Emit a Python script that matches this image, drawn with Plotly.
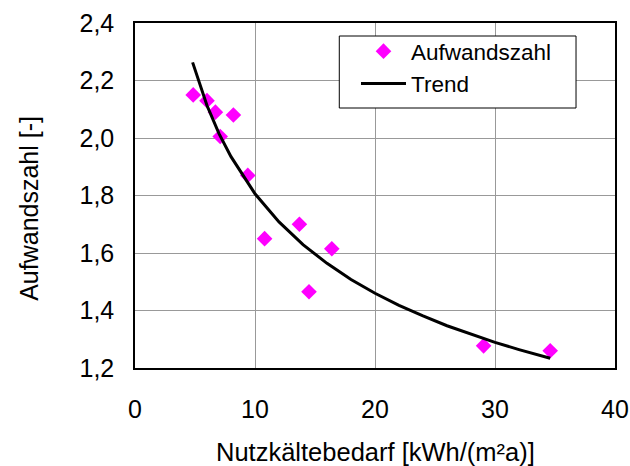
import plotly.graph_objects as go

# measured points (Nutzkältebedarf vs Aufwandszahl)
bedarf = [4.85, 6.0, 6.7, 8.2, 7.1, 9.4, 10.8, 13.7, 14.5, 16.4, 29.05, 34.6]
aufwand = [2.15, 2.13, 2.09, 2.08, 2.005, 1.87, 1.65, 1.70, 1.465, 1.615, 1.277, 1.26]

# trend curve
trend_x = [4.8, 6, 7, 8, 10, 12, 14, 16, 18, 20, 22, 24, 26, 28, 30, 32, 34.6]
trend_y = [2.263, 2.113, 2.015, 1.935, 1.806, 1.708, 1.629, 1.564, 1.508, 1.460,
           1.418, 1.381, 1.347, 1.317, 1.289, 1.264, 1.234]

FONT = "Liberation Sans, Arial, sans-serif"

fig = go.Figure()
fig.add_trace(go.Scatter(
    x=bedarf, y=aufwand, mode="markers", name="Aufwandszahl",
    marker=dict(symbol="diamond", size=12, color="#FF00FF", line=dict(width=0)),
))
fig.add_trace(go.Scatter(
    x=trend_x, y=trend_y, mode="lines", name="Trend",
    line=dict(color="black", width=3),
))

axis_common = dict(
    showgrid=True, gridcolor="#999999", gridwidth=1,
    showline=True, linecolor="black", linewidth=1.5, mirror=True,
    zeroline=False, ticks="", automargin=False,
    tickfont=dict(family=FONT, size=25, color="black"),
)

fig.update_layout(
    width=630, height=466,
    margin=dict(l=135, r=15, t=23, b=98),
    paper_bgcolor="white", plot_bgcolor="white",
    separators=",.",
    font=dict(family=FONT, size=25, color="black"),
    xaxis=dict(range=[0, 40], dtick=10, tick0=0, ticklabelstandoff=18,
               **axis_common),
    yaxis=dict(range=[1.2, 2.4], dtick=0.2, tick0=1.2, tickformat=".1f",
               ticklabelstandoff=14, **axis_common),
    legend=dict(
        x=0.4604, y=0.9797, xanchor="left", yanchor="top",
        borderwidth=0, bgcolor="rgba(0,0,0,0)",
        font=dict(family=FONT, size=22.5),
        itemwidth=45,
    ),
    showlegend=True,
    # legend frame, drawn as a shape so it can carry Excel-like padding
    shapes=[
        dict(type="rect", xref="paper", yref="paper", layer="above",
             x0=0.4256, x1=0.9188, y0=0.7536, y1=0.9623,
             line=dict(color="black", width=1), fillcolor="white"),
    ],
    annotations=[
        dict(text="Nutzkältebedarf [kWh/(m²a)]", xref="paper", yref="paper",
             x=0.5, y=-0.2435, xanchor="center", yanchor="middle",
             showarrow=False, font=dict(family=FONT, size=25.5)),
        dict(text="Aufwandszahl [-]", xref="paper", yref="paper",
             x=-0.221, y=0.464, xanchor="center", yanchor="middle",
             textangle=-90, showarrow=False, font=dict(family=FONT, size=25)),
    ],
)

fig.write_html("out.html", config={"displayModeBar": False},
               post_script="document.body.style.margin='0px';")
